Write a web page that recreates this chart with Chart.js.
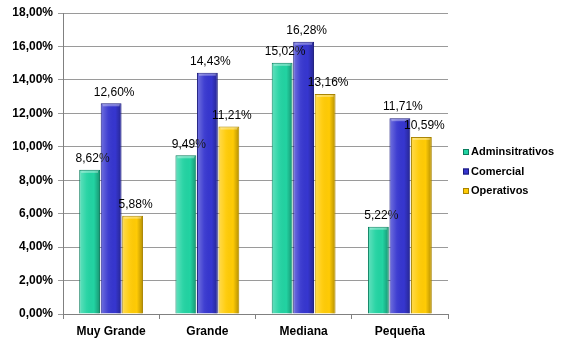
<!DOCTYPE html>
<html lang="es">
<head>
    <meta charset="UTF-8">
    <title>Chart</title>
    <script src="https://cdn.jsdelivr.net/npm/chart.js"></script>
    <style>
        html, body { margin: 0; padding: 0; background: #fff; }
        #wrap { width: 582px; height: 362px; }
    </style>
</head>
<body>
    <div id="wrap"><canvas id="chart"></canvas></div>

    <script>
        const categories = ['Muy Grande', 'Grande', 'Mediana', 'Pequeña'];
        const seriesNames = ['Adminsitrativos', 'Comercial', 'Operativos'];
        const administrativos = [8.62, 9.49, 15.02, 5.22];
        const comercial = [12.60, 14.43, 16.28, 11.71];
        const operativos = [5.88, 11.21, 13.16, 10.59];
        const yTicks = [0, 2, 4, 6, 8, 10, 12, 14, 16, 18];

        const fills = ['#22D3A2', '#3636CF', '#FFCB05'];
        const edges = ['#0C7D5E', '#1A1A7A', '#A88300'];

        const pct = v => v.toFixed(2).replace('.', ',') + '%';

        // bar shading + value labels
        const barDecor = {
            id: 'barDecor',
            afterDatasetsDraw(chart) {
                const ctx = chart.ctx;
                chart.data.datasets.forEach((ds, i) => {
                    chart.getDatasetMeta(i).data.forEach((bar, j) => {
                        const p = bar.getProps(['x', 'y', 'base', 'width']);
                        const l = p.x - p.width / 2, r = p.x + p.width / 2;
                        const g = ctx.createLinearGradient(l, 0, r, 0);
                        g.addColorStop(0, 'rgba(255,255,255,0.30)');
                        g.addColorStop(0.35, 'rgba(255,255,255,0.05)');
                        g.addColorStop(0.7, 'rgba(0,0,0,0)');
                        g.addColorStop(1, 'rgba(0,0,0,0.30)');
                        ctx.save();
                        ctx.fillStyle = g;
                        ctx.fillRect(l + 1, p.y + 1, p.width - 2, p.base - p.y - 1);
                        ctx.fillStyle = 'rgba(255,255,255,0.35)';
                        ctx.fillRect(l + 2, p.y + 1, p.width - 4, 2);
                        ctx.fillStyle = '#000';
                        ctx.font = '12px "Liberation Sans", Arial, sans-serif';
                        ctx.textAlign = 'center';
                        ctx.textBaseline = 'bottom';
                        ctx.fillText(pct(ds.data[j]), p.x + 3, p.y - 5);
                        ctx.restore();
                    });
                });
            }
        };

        // legend on the right
        const sideLegend = {
            id: 'sideLegend',
            afterDraw(chart) {
                const ctx = chart.ctx;
                ctx.save();
                ctx.font = 'bold 11px "Liberation Sans", Arial, sans-serif';
                ctx.textBaseline = 'middle';
                seriesNames.forEach((name, i) => {
                    const y = 152 + i * 19.5;
                    ctx.fillStyle = fills[i];
                    ctx.fillRect(463, y - 3, 6, 6);
                    ctx.strokeStyle = edges[i];
                    ctx.lineWidth = 1;
                    ctx.strokeRect(463.5, y - 2.5, 5, 5);
                    ctx.fillStyle = '#000';
                    ctx.fillText(name, 471, y);
                });
                ctx.restore();
            }
        };

        const data = {
            labels: categories,
            datasets: [administrativos, comercial, operativos].map((vals, i) => ({
                label: seriesNames[i],
                data: vals,
                backgroundColor: fills[i],
                borderColor: edges[i],
                borderWidth: 1,
                barPercentage: 0.97,
                categoryPercentage: 0.67
            }))
        };

        new Chart(document.getElementById('chart'), {
            type: 'bar',
            data: data,
            options: {
                responsive: true,
                maintainAspectRatio: false,
                animation: false,
                layout: { padding: { left: 0, right: 134, top: 13, bottom: 0 } },
                plugins: {
                    legend: { display: false },
                    tooltip: { enabled: false }
                },
                scales: {
                    x: {
                        grid: {
                            offset: true,
                            drawOnChartArea: false,
                            color: '#808080',
                            tickLength: 5
                        },
                        border: { color: '#808080' },
                        ticks: {
                            color: '#000',
                            padding: 5,
                            font: { family: '"Liberation Sans", Arial, sans-serif', size: 12, weight: 'bold' }
                        },
                        afterFit: s => { s.height = 48; }
                    },
                    y: {
                        min: 0,
                        max: 18,
                        afterBuildTicks: s => { s.ticks = yTicks.map(v => ({ value: v })); },
                        grid: { color: '#9a9a9a', tickLength: 5 },
                        border: { color: '#808080' },
                        ticks: {
                            color: '#000',
                            padding: 5,
                            callback: v => pct(v),
                            font: { family: '"Liberation Sans", Arial, sans-serif', size: 12, weight: 'bold' }
                        },
                        afterFit: s => { s.width = 63; }
                    }
                }
            },
            plugins: [barDecor, sideLegend]
        });
    </script>
</body>
</html>
